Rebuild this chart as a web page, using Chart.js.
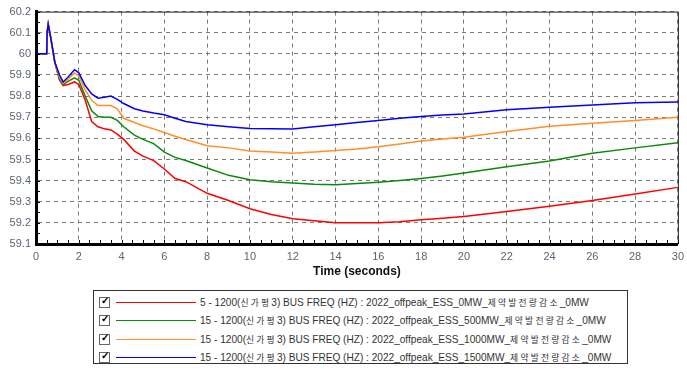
<!DOCTYPE html>
<html>
<head>
<meta charset="utf-8">
<script src="https://cdn.jsdelivr.net/npm/chart.js@4.4.1/dist/chart.umd.min.js"></script>
<style>
  body { margin: 0; background: #fff; width: 687px; height: 369px; overflow: hidden; position: relative; }
  #wrap { position: absolute; left: 0; top: 0; width: 690px; height: 285px; }
  #legend {
    position: absolute; left: 93px; top: 290px; width: 535px; height: 74px;
    border: 1px solid #333; box-sizing: border-box;
    font-family: "Liberation Sans", Arial, sans-serif; font-size: 10.1px; color: #333;
  }
  .row { position: absolute; left: 0; height: 16px; display: flex; align-items: center; white-space: nowrap; }
  .chk { width: 9px; height: 9px; border: 1px solid #666; margin-left: 5px; position: relative; background: #fff; flex: none; }
  .chk:after { content: "✓"; position: absolute; left: 1px; top: -3px; font-size: 10px; font-weight: bold; color: #000; }
  .swatch { width: 80px; height: 0; border-top: 1.5px solid; margin-left: 6px; margin-right: 4px; flex: none; }
  .ko { letter-spacing: 2.2px; font-family: "Noto Sans CJK KR", sans-serif; font-size: 8.8px; }
</style>
</head>
<body>
<div id="wrap"><canvas id="myChart" width="690" height="285"></canvas></div>
<div id="legend"></div>
<script>
// bus frequency after generator trip
const times = [0, 0.5, 0.52, 0.57, 0.7, 0.88, 1.1, 1.27, 1.5, 1.8, 2.0, 2.3, 2.6, 2.9, 3.2, 3.5, 3.8, 4.1, 4.6, 5.0, 5.5, 6.0, 6.5, 7.0, 8.0, 9.0, 10, 11, 12, 13, 14, 15, 16, 17, 18, 19, 20, 22, 24, 26, 28, 30];

const freq0MW = [60, 60, 60.1, 60.14, 60.07, 59.96, 59.875, 59.85, 59.855, 59.867, 59.855, 59.78, 59.68, 59.655, 59.645, 59.64, 59.62, 59.595, 59.54, 59.516, 59.495, 59.455, 59.41, 59.395, 59.34, 59.306, 59.267, 59.24, 59.22, 59.21, 59.201, 59.2, 59.201, 59.205, 59.215, 59.222, 59.23, 59.254, 59.279, 59.306, 59.337, 59.368];
const freq500MW = [60, 60, 60.1, 60.14, 60.07, 59.96, 59.88, 59.855, 59.87, 59.886, 59.875, 59.8, 59.73, 59.703, 59.7, 59.7, 59.685, 59.655, 59.615, 59.595, 59.575, 59.535, 59.51, 59.495, 59.46, 59.425, 59.404, 59.395, 59.389, 59.383, 59.381, 59.386, 59.392, 59.4, 59.41, 59.422, 59.436, 59.466, 59.493, 59.529, 59.555, 59.579];
const freq1000MW = [60, 60, 60.1, 60.14, 60.07, 59.96, 59.89, 59.86, 59.88, 59.91, 59.895, 59.83, 59.78, 59.755, 59.755, 59.755, 59.74, 59.695, 59.675, 59.66, 59.645, 59.628, 59.61, 59.595, 59.565, 59.555, 59.54, 59.535, 59.529, 59.535, 59.543, 59.55, 59.56, 59.573, 59.587, 59.597, 59.605, 59.633, 59.657, 59.672, 59.685, 59.7];
const freq1500MW = [60, 60, 60.1, 60.14, 60.07, 59.96, 59.9, 59.867, 59.89, 59.925, 59.91, 59.85, 59.81, 59.79, 59.795, 59.8, 59.785, 59.765, 59.74, 59.73, 59.72, 59.712, 59.695, 59.68, 59.665, 59.655, 59.647, 59.645, 59.644, 59.655, 59.665, 59.675, 59.685, 59.695, 59.704, 59.71, 59.715, 59.735, 59.747, 59.758, 59.769, 59.772];

const seriesLabels = [
    ['5 - 1200(', '신가평', '3) BUS FREQ (HZ) : 2022_offpeak_ESS_0MW_', '제약발전량감소', '_0MW'],
    ['15 - 1200(', '신가평', '3) BUS FREQ (HZ) : 2022_offpeak_ESS_500MW_', '제약발전량감소', '_0MW'],
    ['15 - 1200(', '신가평', '3) BUS FREQ (HZ) : 2022_offpeak_ESS_1000MW_', '제약발전량감소', '_0MW'],
    ['15 - 1200(', '신가평', '3) BUS FREQ (HZ) : 2022_offpeak_ESS_1500MW_', '제약발전량감소', '_0MW']
];
const seriesColors = ['#ff0000', '#0a8a0a', '#ff8f26', '#0000ff'];
const seriesData = [freq0MW, freq500MW, freq1000MW, freq1500MW];

const xMin = 0, xMax = 30, xStep = 2;
const yMin = 59.1, yMax = 60.2, yStep = 0.1;

const font = '"Liberation Sans", Arial, sans-serif';

// border on top/right + minor ticks on the axes
const frame = {
    id: 'frame',
    afterDraw(chart) {
        const {ctx, chartArea: a, scales} = chart;
        ctx.save();
        ctx.strokeStyle = '#222';
        ctx.lineWidth = 1;
        ctx.beginPath();
        ctx.moveTo(a.left, a.top + 0.5);
        ctx.lineTo(a.right + 0.5, a.top + 0.5);
        ctx.lineTo(a.right + 0.5, a.bottom);
        ctx.stroke();
        ctx.strokeStyle = '#000';
        ctx.beginPath();
        for (let t = xMin; t <= xMax; t += 0.5) {
            const px = Math.round(scales.x.getPixelForValue(t)) + 0.5;
            ctx.moveTo(px, a.bottom);
            ctx.lineTo(px, a.bottom - 4);
        }
        for (let v = yMin; v <= yMax + 1e-9; v += 0.05) {
            const py = Math.round(scales.y.getPixelForValue(v)) + 0.5;
            ctx.moveTo(a.left, py);
            ctx.lineTo(a.left + 4, py);
        }
        ctx.stroke();
        ctx.restore();
    }
};

new Chart(document.getElementById('myChart'), {
    type: 'line',
    data: {
        datasets: seriesData.map((arr, i) => ({
            label: seriesLabels[i].join(''),
            data: times.map((t, j) => ({x: t, y: arr[j]})),
            borderColor: seriesColors[i],
            backgroundColor: seriesColors[i],
            borderWidth: 1.5,
            pointRadius: 0,
            tension: 0,
            fill: false,
            order: 3 - i
        }))
    },
    options: {
        responsive: false,
        animation: false,
        devicePixelRatio: 1,
        layout: {padding: {top: 9, right: 3, bottom: 6, left: 0}},
        plugins: {legend: {display: false}, tooltip: {enabled: false}},
        scales: {
            x: {
                type: 'linear',
                min: xMin, max: xMax,
                ticks: {stepSize: xStep, color: '#5b6475', font: {family: font, size: 11}, padding: 6, maxRotation: 0},
                grid: {color: '#7a7a7a', lineWidth: 1, drawTicks: false},
                border: {display: true, color: '#000', width: 3, dash: [4, 4]},
                title: {display: true, text: 'Time (seconds)', color: '#111', font: {family: font, size: 12, weight: 'bold'}, padding: {top: 0, bottom: 0}},
                afterFit: s => { s.height = 35; }
            },
            y: {
                min: yMin, max: yMax,
                ticks: {stepSize: yStep, color: '#5b6475', font: {family: font, size: 11}, padding: 5,
                        callback: v => String(Number(v.toFixed(1)))},
                grid: {color: '#7a7a7a', lineWidth: 1, drawTicks: false},
                border: {display: true, color: '#000', width: 3, dash: [4, 4]},
                afterFit: s => { s.width = 36; }
            }
        }
    },
    plugins: [frame]
});

// legend box below the plot
const legend = document.getElementById('legend');
seriesLabels.forEach((parts, i) => {
    const row = document.createElement('div');
    row.className = 'row';
    row.style.top = (3 + i * 18.6) + 'px';
    row.innerHTML = '<span class="chk"></span><span class="swatch" style="border-color:' + seriesColors[i] + '"></span>' +
        '<span>' + parts[0] + '<span class="ko">' + parts[1] + '</span>' + parts[2] + '<span class="ko">' + parts[3] + '</span>' + parts[4] + '</span>';
    legend.appendChild(row);
});
</script>
</body>
</html>
